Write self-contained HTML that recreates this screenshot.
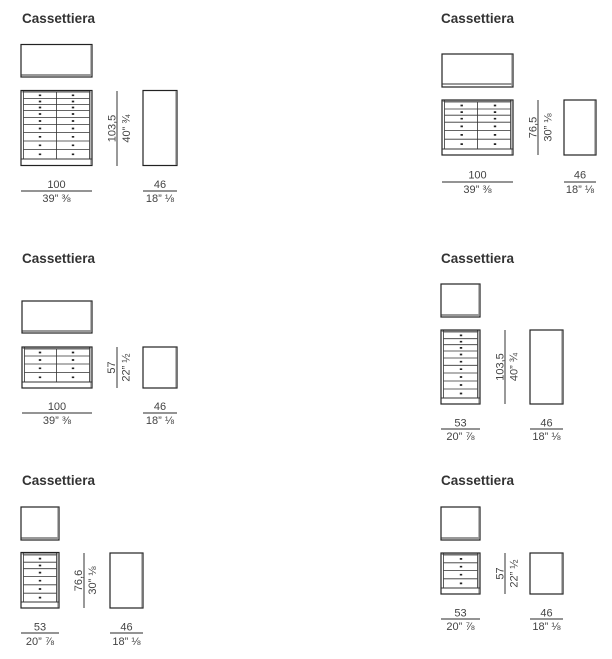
<!DOCTYPE html>
<html><head><meta charset="utf-8"><style>
html,body{margin:0;padding:0;background:#fff;}
svg{display:block;}
.t{font-family:"Liberation Sans",sans-serif;font-weight:bold;font-size:13.5px;fill:#333;}
.d{font-family:"Liberation Sans",sans-serif;font-size:11px;fill:#444;}
.o{fill:#fff;stroke:#222;stroke-width:1.2;}
.g{stroke:#999;stroke-width:1.4;fill:none;}
.l{stroke:#333;stroke-width:0.8;fill:none;}
.p{stroke:#333;stroke-width:1;fill:none;}
.k{stroke:#222;stroke-width:1.7;fill:none;}
.m{stroke:#555;stroke-width:1.2;fill:none;}
</style></head><body>
<svg width="612" height="659" viewBox="0 0 612 659" xmlns="http://www.w3.org/2000/svg">
<rect width="612" height="659" fill="#fff"/>

<!-- ===== Block 1 ===== -->
<text class="t" x="22" y="23" textLength="73">Cassettiera</text>
<rect class="o" x="21" y="44.5" width="71" height="32.5"/>
<line class="p" x1="21" y1="75" x2="92" y2="75"/>
<line class="g" x1="91" y1="45" x2="91" y2="76"/>
<rect class="o" x="21" y="90.5" width="71" height="75"/>
<rect x="21.6" y="91.1" width="69.8" height="1.4" fill="#999"/>
<line class="g" x1="91" y1="91" x2="91" y2="165"/>
<path class="l" d="M23.5 91V159M89.5 91V159M56.5 92V159M23.5 92H89.5M23.5 98.5H89.5M23.5 104.5H89.5M23.5 110.5H89.5M23.5 117.5H89.5M23.5 124.5H89.5M23.5 132.5H89.5M23.5 141H89.5M23.5 149.5H89.5"/>
<path class="p" d="M21 159H92"/>
<path class="k" d="M38.8 95.3h2.4M71.8 95.3h2.4M38.8 101.5h2.4M71.8 101.5h2.4M38.8 107.5h2.4M71.8 107.5h2.4M38.8 114h2.4M71.8 114h2.4M38.8 121h2.4M71.8 121h2.4M38.8 128.5h2.4M71.8 128.5h2.4M38.8 136.8h2.4M71.8 136.8h2.4M38.8 145.3h2.4M71.8 145.3h2.4M38.8 154.3h2.4M71.8 154.3h2.4"/>
<line class="m" x1="117" y1="91" x2="117" y2="166"/>
<text class="d" text-anchor="middle" transform="translate(115.5 128.5) rotate(-90)">103,5</text>
<text class="d" text-anchor="middle" transform="translate(130 128.5) rotate(-90)">40” ¾</text>
<rect class="o" x="143" y="90.5" width="34" height="75"/>
<line class="g" x1="176" y1="91" x2="176" y2="165"/>
<line class="m" x1="21" y1="191" x2="92" y2="191"/>
<text class="d" text-anchor="middle" x="56.5" y="188">100</text>
<text class="d" text-anchor="middle" x="56.5" y="202">39” ⅜</text>
<line class="m" x1="143" y1="191" x2="177" y2="191"/>
<text class="d" text-anchor="middle" x="160" y="188">46</text>
<text class="d" text-anchor="middle" x="160" y="202">18” ⅛</text>

<!-- ===== Block 2 ===== -->
<text class="t" x="441" y="23" textLength="73">Cassettiera</text>
<rect class="o" x="442" y="54" width="71" height="33"/>
<line class="p" x1="442" y1="84" x2="513" y2="84"/>
<line class="g" x1="512" y1="54.5" x2="512" y2="86"/>
<rect class="o" x="442" y="100" width="71" height="55"/>
<rect x="442.6" y="100.6" width="69.8" height="1.4" fill="#999"/>
<line class="g" x1="512" y1="100.5" x2="512" y2="154.5"/>
<path class="l" d="M444.5 100.5V149M510.5 100.5V149M477.5 102V149M444.5 102H510.5M444.5 109H510.5M444.5 115.2H510.5M444.5 122.2H510.5M444.5 130.5H510.5M444.5 139.2H510.5"/>
<path class="p" d="M442 149H513"/>
<path class="k" d="M460.5 105.5h2.4M493.8 105.5h2.4M460.5 112.1h2.4M493.8 112.1h2.4M460.5 118.7h2.4M493.8 118.7h2.4M460.5 126.4h2.4M493.8 126.4h2.4M460.5 134.9h2.4M493.8 134.9h2.4M460.5 144.1h2.4M493.8 144.1h2.4"/>
<line class="m" x1="538" y1="100" x2="538" y2="155"/>
<text class="d" text-anchor="middle" transform="translate(536.5 127.5) rotate(-90)">76,5</text>
<text class="d" text-anchor="middle" transform="translate(551.5 127.5) rotate(-90)">30” ⅛</text>
<rect class="o" x="564" y="100" width="32" height="55"/>
<line class="g" x1="595" y1="100.5" x2="595" y2="154.5"/>
<line class="m" x1="442" y1="182" x2="513" y2="182"/>
<text class="d" text-anchor="middle" x="477.5" y="178.5">100</text>
<text class="d" text-anchor="middle" x="477.5" y="193">39” ⅜</text>
<line class="m" x1="564" y1="182" x2="596" y2="182"/>
<text class="d" text-anchor="middle" x="580" y="178.5">46</text>
<text class="d" text-anchor="middle" x="580" y="193">18” ⅛</text>

<!-- ===== Block 3 ===== -->
<text class="t" x="22" y="263" textLength="73">Cassettiera</text>
<rect class="o" x="22" y="301" width="70" height="32"/>
<line class="p" x1="22" y1="331" x2="92" y2="331"/>
<line class="g" x1="91" y1="301.5" x2="91" y2="332"/>
<rect class="o" x="22" y="347" width="70" height="41"/>
<rect x="22.6" y="347.6" width="68.8" height="1.4" fill="#999"/>
<line class="g" x1="91" y1="347.5" x2="91" y2="387.5"/>
<path class="l" d="M24.5 347.5V382M89.5 347.5V382M56.5 349V382M24.5 349H89.5M24.5 356H89.5M24.5 364H89.5M24.5 372.5H89.5"/>
<path class="p" d="M22 382H92"/>
<path class="k" d="M38.8 352.5h2.4M71.8 352.5h2.4M38.8 360h2.4M71.8 360h2.4M38.8 368.3h2.4M71.8 368.3h2.4M38.8 377.3h2.4M71.8 377.3h2.4"/>
<line class="m" x1="117" y1="347" x2="117" y2="388"/>
<text class="d" text-anchor="middle" transform="translate(115 367.5) rotate(-90)">57</text>
<text class="d" text-anchor="middle" transform="translate(129.5 367.5) rotate(-90)">22” ½</text>
<rect class="o" x="143" y="347" width="34" height="41"/>
<line class="g" x1="176" y1="347.5" x2="176" y2="387.5"/>
<line class="m" x1="22" y1="413" x2="92" y2="413"/>
<text class="d" text-anchor="middle" x="57" y="410">100</text>
<text class="d" text-anchor="middle" x="57" y="424">39” ⅜</text>
<line class="m" x1="143" y1="413" x2="177" y2="413"/>
<text class="d" text-anchor="middle" x="160" y="410">46</text>
<text class="d" text-anchor="middle" x="160" y="424">18” ⅛</text>

<!-- ===== Block 4 ===== -->
<text class="t" x="441" y="263" textLength="73">Cassettiera</text>
<rect class="o" x="441" y="284" width="39" height="33"/>
<line class="p" x1="441" y1="315" x2="480" y2="315"/>
<line class="g" x1="479" y1="284.5" x2="479" y2="316"/>
<rect class="o" x="441" y="330" width="39" height="74"/>
<rect x="441.6" y="330.6" width="37.8" height="1.4" fill="#999"/>
<line class="g" x1="479" y1="330.5" x2="479" y2="403.5"/>
<path class="l" d="M443.5 330.5V398M477.5 330.5V398M443.5 332H477.5M443.5 338.7H477.5M443.5 344.7H477.5M443.5 351H477.5M443.5 358H477.5M443.5 365.3H477.5M443.5 373H477.5M443.5 381H477.5M443.5 389H477.5"/>
<path class="p" d="M441 398H480"/>
<path class="k" d="M459.8 335.4h2.4M459.8 341.7h2.4M459.8 347.9h2.4M459.8 354.5h2.4M459.8 361.7h2.4M459.8 369.2h2.4M459.8 377h2.4M459.8 385h2.4M459.8 393.5h2.4"/>
<line class="m" x1="505" y1="330" x2="505" y2="404"/>
<text class="d" text-anchor="middle" transform="translate(503.5 367) rotate(-90)">103,5</text>
<text class="d" text-anchor="middle" transform="translate(517.5 367) rotate(-90)">40” ¾</text>
<rect class="o" x="530" y="330" width="33" height="74"/>
<line class="g" x1="562" y1="330.5" x2="562" y2="403.5"/>
<line class="m" x1="441" y1="429" x2="480" y2="429"/>
<text class="d" text-anchor="middle" x="460.5" y="426.5">53</text>
<text class="d" text-anchor="middle" x="460.5" y="440">20” ⅞</text>
<line class="m" x1="530" y1="429" x2="563" y2="429"/>
<text class="d" text-anchor="middle" x="546.5" y="426.5">46</text>
<text class="d" text-anchor="middle" x="546.5" y="440">18” ⅛</text>

<!-- ===== Block 5 ===== -->
<text class="t" x="22" y="485" textLength="73">Cassettiera</text>
<rect class="o" x="21" y="507" width="38" height="33"/>
<line class="p" x1="21" y1="538" x2="59" y2="538"/>
<line class="g" x1="58" y1="507.5" x2="58" y2="539"/>
<rect class="o" x="21" y="552.5" width="38" height="55.5"/>
<rect x="21.6" y="553.1" width="36.8" height="1.4" fill="#999"/>
<line class="g" x1="58" y1="553" x2="58" y2="607.5"/>
<path class="l" d="M23.5 553V602M56.5 553V602M23.5 555H56.5M23.5 562.2H56.5M23.5 568.7H56.5M23.5 576.5H56.5M23.5 584.8H56.5M23.5 593.2H56.5"/>
<path class="p" d="M21 602H59"/>
<path class="k" d="M38.8 558.6h2.4M38.8 565.5h2.4M38.8 572.6h2.4M38.8 580.7h2.4M38.8 589h2.4M38.8 597.6h2.4"/>
<line class="m" x1="84" y1="553" x2="84" y2="608"/>
<text class="d" text-anchor="middle" transform="translate(82 580.5) rotate(-90)">76,6</text>
<text class="d" text-anchor="middle" transform="translate(96 580.5) rotate(-90)">30” ⅛</text>
<rect class="o" x="110" y="553" width="33" height="55"/>
<line class="g" x1="142" y1="553.5" x2="142" y2="607.5"/>
<line class="m" x1="21" y1="633" x2="59" y2="633"/>
<text class="d" text-anchor="middle" x="40" y="630.5">53</text>
<text class="d" text-anchor="middle" x="40" y="645">20” ⅞</text>
<line class="m" x1="110" y1="633" x2="143" y2="633"/>
<text class="d" text-anchor="middle" x="126.5" y="630.5">46</text>
<text class="d" text-anchor="middle" x="126.5" y="645">18” ⅛</text>

<!-- ===== Block 6 ===== -->
<text class="t" x="441" y="485" textLength="73">Cassettiera</text>
<rect class="o" x="441" y="507" width="39" height="33"/>
<line class="p" x1="441" y1="538" x2="480" y2="538"/>
<line class="g" x1="479" y1="507.5" x2="479" y2="539"/>
<rect class="o" x="441" y="553" width="39" height="41"/>
<rect x="441.6" y="553.6" width="37.8" height="1.4" fill="#999"/>
<line class="g" x1="479" y1="553.5" x2="479" y2="593.5"/>
<path class="l" d="M443.5 553.5V588M477.5 553.5V588M443.5 555H477.5M443.5 562.8H477.5M443.5 570.5H477.5M443.5 578.8H477.5"/>
<path class="p" d="M441 588H480"/>
<path class="k" d="M459.8 558.9h2.4M459.8 566.7h2.4M459.8 574.7h2.4M459.8 583.4h2.4"/>
<line class="m" x1="505" y1="553" x2="505" y2="594"/>
<text class="d" text-anchor="middle" transform="translate(503.5 573.5) rotate(-90)">57</text>
<text class="d" text-anchor="middle" transform="translate(517.5 573.5) rotate(-90)">22” ½</text>
<rect class="o" x="530" y="553" width="33" height="41"/>
<line class="g" x1="562" y1="553.5" x2="562" y2="593.5"/>
<line class="m" x1="441" y1="619" x2="480" y2="619"/>
<text class="d" text-anchor="middle" x="460.5" y="616.5">53</text>
<text class="d" text-anchor="middle" x="460.5" y="630">20” ⅞</text>
<line class="m" x1="530" y1="619" x2="563" y2="619"/>
<text class="d" text-anchor="middle" x="546.5" y="616.5">46</text>
<text class="d" text-anchor="middle" x="546.5" y="630">18” ⅛</text>
</svg>
</body></html>
